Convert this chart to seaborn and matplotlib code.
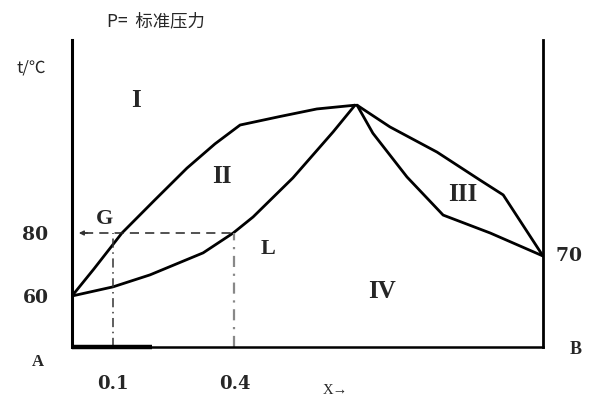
import numpy as np
import pandas as pd
import matplotlib
matplotlib.use("Agg")
import matplotlib.pyplot as plt
import seaborn as sns

# ---- data ----
left_upper_x = [0.0, 0.054, 0.123, 0.204, 0.283, 0.352, 0.414, 0.512, 0.603, 0.697]
left_upper_y = [60.0, 68.6, 80.0, 90.5, 100.6, 108.3, 114.3, 117.0, 119.4, 120.6]
left_lower_x = [0.0, 0.101, 0.192, 0.323, 0.397, 0.446, 0.544, 0.643, 0.697]
left_lower_y = [60.0, 62.9, 66.7, 73.7, 80.0, 85.1, 97.5, 112.1, 120.6]
right_upper_x = [0.702, 0.783, 0.899, 1.005, 1.062, 1.160]
right_upper_y = [120.6, 113.7, 105.7, 96.8, 92.1, 72.7]
right_lower_x = [0.702, 0.741, 0.825, 0.914, 1.030, 1.160]
right_lower_y = [120.6, 111.7, 97.8, 85.7, 80.0, 72.7]

x_ticks = [0.1, 0.4]
x_tick_labels = ["0.1", "0.4"]
y_ticks = [60, 80]
y_tick_labels = ["60", "80"]
b_point = 72.7
b_label = "70"
regions = ["I", "II", "III", "IV", "G", "L"]
region_x = [0.158, 0.370, 0.962, 0.764, 0.079, 0.483]
region_y = [122.0, 98.0, 92.3, 61.5, 84.6, 75.0]

sns.set_theme(style="white")
plt.rcParams['font.family'] = ['Noto Sans CJK SC', 'DejaVu Sans']

fig = plt.figure(figsize=(5.9, 3.98), dpi=100)
ax = fig.add_axes([72/590, 1-347/398, (543-72)/590, (347-40)/398])

lw = 2.0
for xs, ys in [(left_upper_x, left_upper_y), (left_lower_x, left_lower_y),
               (right_upper_x, right_upper_y), (right_lower_x, right_lower_y)]:
    df = pd.DataFrame({"x": xs, "y": ys})
    sns.lineplot(data=df, x="x", y="y", sort=False, estimator=None,
                 color="black", linewidth=lw, ax=ax)

ax.set_xlim(0, 1.16)
ax.set_ylim(43.8, 141.3)

# guide lines
ax.plot([0.03, x_ticks[1]], [80, 80], color="#222222", lw=1.1, ls=(0, (6, 4)))
ax.annotate("", xy=(0.01, 80), xytext=(0.045, 80),
            arrowprops=dict(arrowstyle="-|>", color="#333333", lw=1.0, mutation_scale=7))
ax.plot([x_ticks[0], x_ticks[0]], [43.8, 80], color="#333333", lw=1.1, ls=(0, (6, 3, 1, 3)))
ax.plot([x_ticks[1], x_ticks[1]], [43.8, 80], color="#888888", lw=1.6, ls=(0, (5, 3, 1, 3)))

# spines
for s in ["left", "right", "bottom"]:
    ax.spines[s].set_visible(True)
    ax.spines[s].set_color("black")
ax.spines["top"].set_visible(False)
ax.spines["left"].set_linewidth(2.2)
ax.spines["right"].set_linewidth(2.0)
ax.spines["bottom"].set_linewidth(1.8)
ax.plot([0, 0.197], [43.8, 43.8], color="black", lw=3.2, clip_on=False, solid_capstyle="butt")

num_font = dict(family="DejaVu Serif", fontweight="bold")
serif_bold = dict(family="Liberation Serif", fontweight="bold")
ax.set_xticks(x_ticks)
ax.set_xticklabels(x_tick_labels, fontsize=13, **num_font)
ax.set_yticks(y_ticks)
ax.set_yticklabels(y_tick_labels, fontsize=13.5, **num_font)
ax.tick_params(axis="x", length=0, pad=20)
ax.tick_params(axis="y", length=0, pad=17)
ax.set_xlabel("")
ax.set_ylabel("")

sizes = [18, 18, 18, 18, 16, 16]
for t, xx, yy, fs in zip(regions, region_x, region_y, sizes):
    ax.text(xx, yy, t, ha="center", va="center", fontsize=fs, **serif_bold)

ax.text(1.0, b_point, "  " + b_label, transform=ax.get_yaxis_transform(), ha="left",
        va="center", fontsize=13.5, **num_font)

fig.text(107/590, 1-21/398, "P=  标准压力", ha="left", va="center", fontsize=12.5,
         family=["Noto Sans CJK SC", "DejaVu Sans"])
fig.text(31/590, 1-68/398, "t/℃", ha="center", va="center", fontsize=12,
         family=["Noto Sans CJK SC", "DejaVu Sans"])
fig.text(38/590, 1-362/398, "A", ha="center", va="center", fontsize=12, **serif_bold)
fig.text(576/590, 1-350/398, "B", ha="center", va="center", fontsize=13, **serif_bold)
fig.text(335/590, 1-391/398, "X→", ha="center", va="center", fontsize=10.5,
         family=["Liberation Serif", "DejaVu Sans"])

fig.savefig("out.png", dpi=100, facecolor="white")
